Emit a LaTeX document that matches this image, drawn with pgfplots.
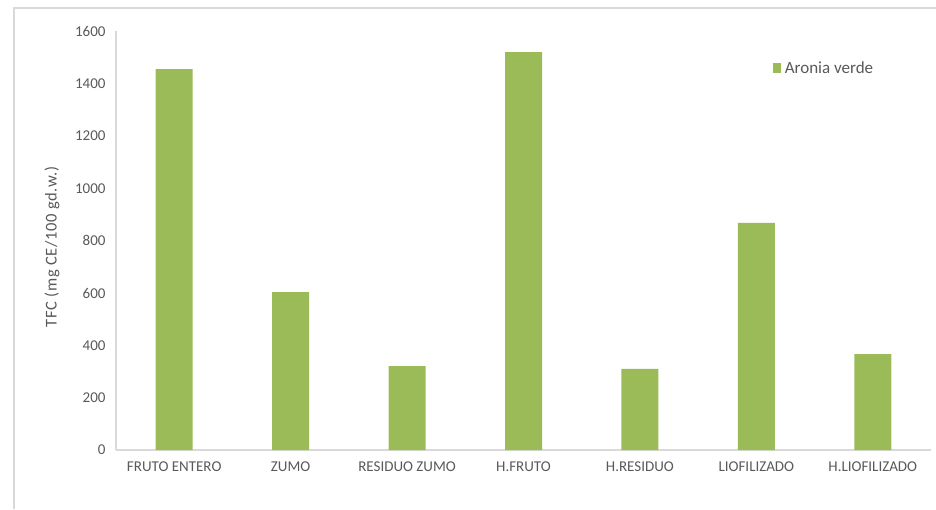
\documentclass[border=0pt]{standalone}
\usepackage{fontspec}
\setmainfont{Carlito}
\newfontfamily\ylabfont[LetterSpace=4]{Carlito}
\usepackage{pgfplots}
\pgfplotsset{compat=1.18}
\definecolor{barg}{HTML}{9BBB59}
\definecolor{txt}{HTML}{595959}
\definecolor{axg}{HTML}{D9D9D9}
\begin{document}
\begin{tikzpicture}
\useasboundingbox (0,0) rectangle (936pt,509pt);
\draw[axg, line width=1.2pt] (14pt,0pt) -- (14pt,501pt) -- (936pt,501pt);
\begin{axis}[
  at={(116pt,59pt)}, anchor=south west,
  scale only axis, width=815pt, height=418.5pt,
  xmin=-0.5, xmax=6.5, ymin=0, ymax=1600,
  ytick={0,200,...,1600},
  xtick=data,
  xticklabels={FRUTO ENTERO,ZUMO,RESIDUO ZUMO,H.FRUTO,H.RESIDUO,LIOFILIZADO,H.LIOFILIZADO},
  axis x line*=bottom, axis y line*=left,
  axis line style={axg, line width=1.2pt, -},
  major tick length=0pt,
  tick label style={font=\fontsize{15}{17}\selectfont, text=txt},
  /pgf/number format/assume math mode=true,
  /pgf/number format/1000 sep={},
  yticklabel style={xshift=-7pt},
  xticklabel style={yshift=-8pt},
  ylabel={TFC (mg CE/100 gd.w.)},
  ylabel style={font=\ylabfont\fontsize{16.5}{18}\selectfont, text=txt, at={(axis description cs:-0.0785,0.485)}, anchor=center},
  legend style={draw=none, fill=none, at={(0.802,0.913)}, anchor=west, font=\fontsize{17}{19}\selectfont, text=txt, legend cell align=left},
  legend image code/.code={\fill[barg] (0pt,-5pt) rectangle (8pt,5pt);},
]
\addplot[ybar, bar width=37pt, fill=barg, draw=none] coordinates {
(0,1456) (1,604) (2,321) (3,1521) (4,310) (5,868) (6,367)};
\addlegendentry{\hspace{2pt}Aronia verde}
\end{axis}
\end{tikzpicture}
\end{document}
